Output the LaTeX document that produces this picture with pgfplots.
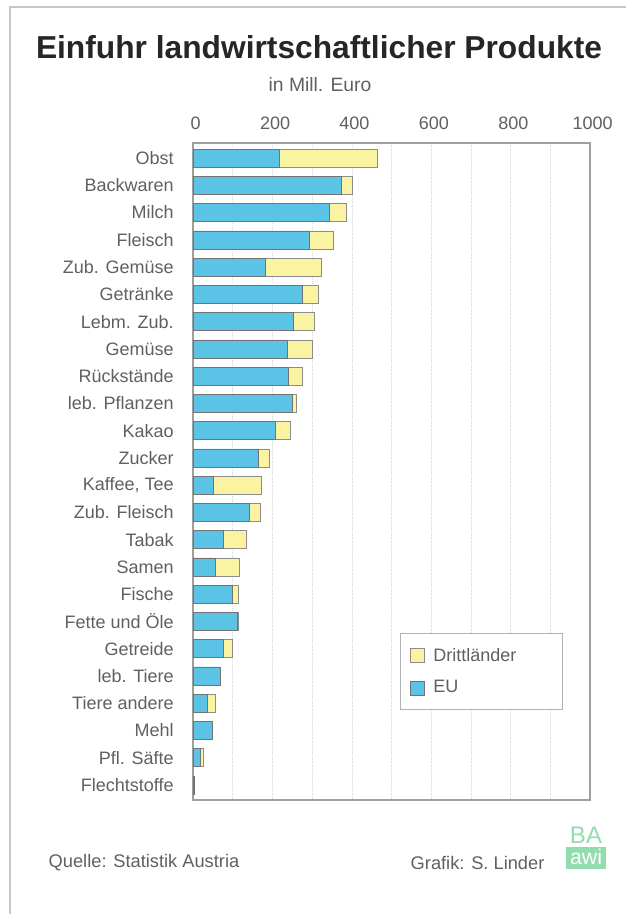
\documentclass[border=0pt]{standalone}
\usepackage{fontspec}
\setmainfont{Liberation Sans}
\usepackage{pgfplots}
\pgfplotsset{compat=1.18}
\definecolor{eu}{HTML}{5BC3E6}
\definecolor{dritt}{HTML}{FAF3A2}
\definecolor{txt}{HTML}{5F5F64}
\definecolor{awi}{HTML}{93DCAE}
\begin{document}
\begin{tikzpicture}
\begin{scope}[x=0.75pt,y=-0.75pt]
\path[use as bounding box] (0,0) rectangle (626,914);
\draw[gray!45, line width=1pt] (10,914) -- (10,7) -- (626,7);
\node[font=\fontsize{23.8}{28}\selectfont\bfseries, text=black!85] at (319,47) {Einfuhr landwirtschaftlicher Produkte};
\node[font=\fontsize{14.5}{17}\selectfont, text=txt] at (320,85) {in Mill. Euro};
\node[anchor=west, font=\fontsize{13.7}{16}\selectfont, text=txt] at (44,863) {Quelle: Statistik Austria};
\node[anchor=west, font=\fontsize{13.7}{16}\selectfont, text=txt] at (406,863) {Grafik: S. Linder};
\node[font=\fontsize{18}{21}\selectfont, text=awi] at (586,835) {BA};
\fill[awi] (566,847) rectangle (606,869);
\node[font=\fontsize{16}{19}\selectfont, text=white] at (586,857) {awi};
\end{scope}
\begin{axis}[
  at={(144.75pt,-107.25pt)}, anchor=north west,
  scale only axis, width=297.75pt, height=492.75pt,
  xbar stacked, bar width=0.66,
  xmin=0, xmax=1000, ymin=-0.55, ymax=23.55,
  y dir=reverse,
  ytick={0,...,23},
  yticklabels={Obst,Backwaren,Milch,Fleisch,Zub. Gemüse,Getränke,Lebm. Zub.,Gemüse,Rückstände,leb. Pflanzen,Kakao,Zucker,{Kaffee, Tee},Zub. Fleisch,Tabak,Samen,Fische,Fette und Öle,Getreide,leb. Tiere,Tiere andere,Mehl,Pfl. Säfte,Flechtstoffe},
  xtick={0,200,...,1000},
  minor xtick={100,300,...,900},
  xticklabel pos=top,
  xmajorgrids, xminorgrids,
  grid style={densely dotted, gray!28},
  major tick length=0pt, minor tick length=0pt,
  axis line style={gray!75, line width=0.8pt},
  tick label style={font=\fontsize{13.5}{16}\selectfont, text=txt},
  /pgf/number format/assume math mode=true,
  /pgf/number format/1000 sep={},
  xticklabel style={yshift=6.5pt, xshift=2pt},
  yticklabel style={xshift=-11pt},
  reverse legend,
  legend cell align=left,
  legend style={at={(0.521,0.254)}, anchor=north west, draw=gray!60, line width=0.6pt,
    font=\fontsize{13.5}{16}\selectfont, text=txt, inner xsep=7pt, inner ysep=9pt, row sep=9pt,
    /tikz/every odd column/.append style={column sep=5pt}},
  legend image code/.code={\draw[#1, line width=0.4pt] (0pt,-5.25pt) rectangle (10.5pt,5.25pt);},
]
\addplot[fill=eu, draw=black!55, line width=0.4pt] coordinates {
(218,0) (374,1) (343,2) (292,3) (182,4) (276,5) (252,6) (238,7) (240,8) (250,9) (206,10) (165,11) (51,12) (142,13) (76,14) (57,15) (99,16) (112,17) (75,18) (69,19) (37,20) (48,21) (19,22) (2,23)};
\addplot[fill=dritt, draw=black!45, line width=0.4pt] coordinates {
(247,0) (27,1) (42,2) (62,3) (140,4) (39,5) (54,6) (63,7) (36,8) (9,9) (40,10) (28,11) (122,12) (28,13) (58,14) (59,15) (15,16) (1,17) (24,18) (0,19) (18,20) (0,21) (6,22) (0,23)};
\addlegendentry{EU}
\addlegendentry{\makebox[88pt][l]{Drittländer}}
\end{axis}
\end{tikzpicture}
\end{document}
